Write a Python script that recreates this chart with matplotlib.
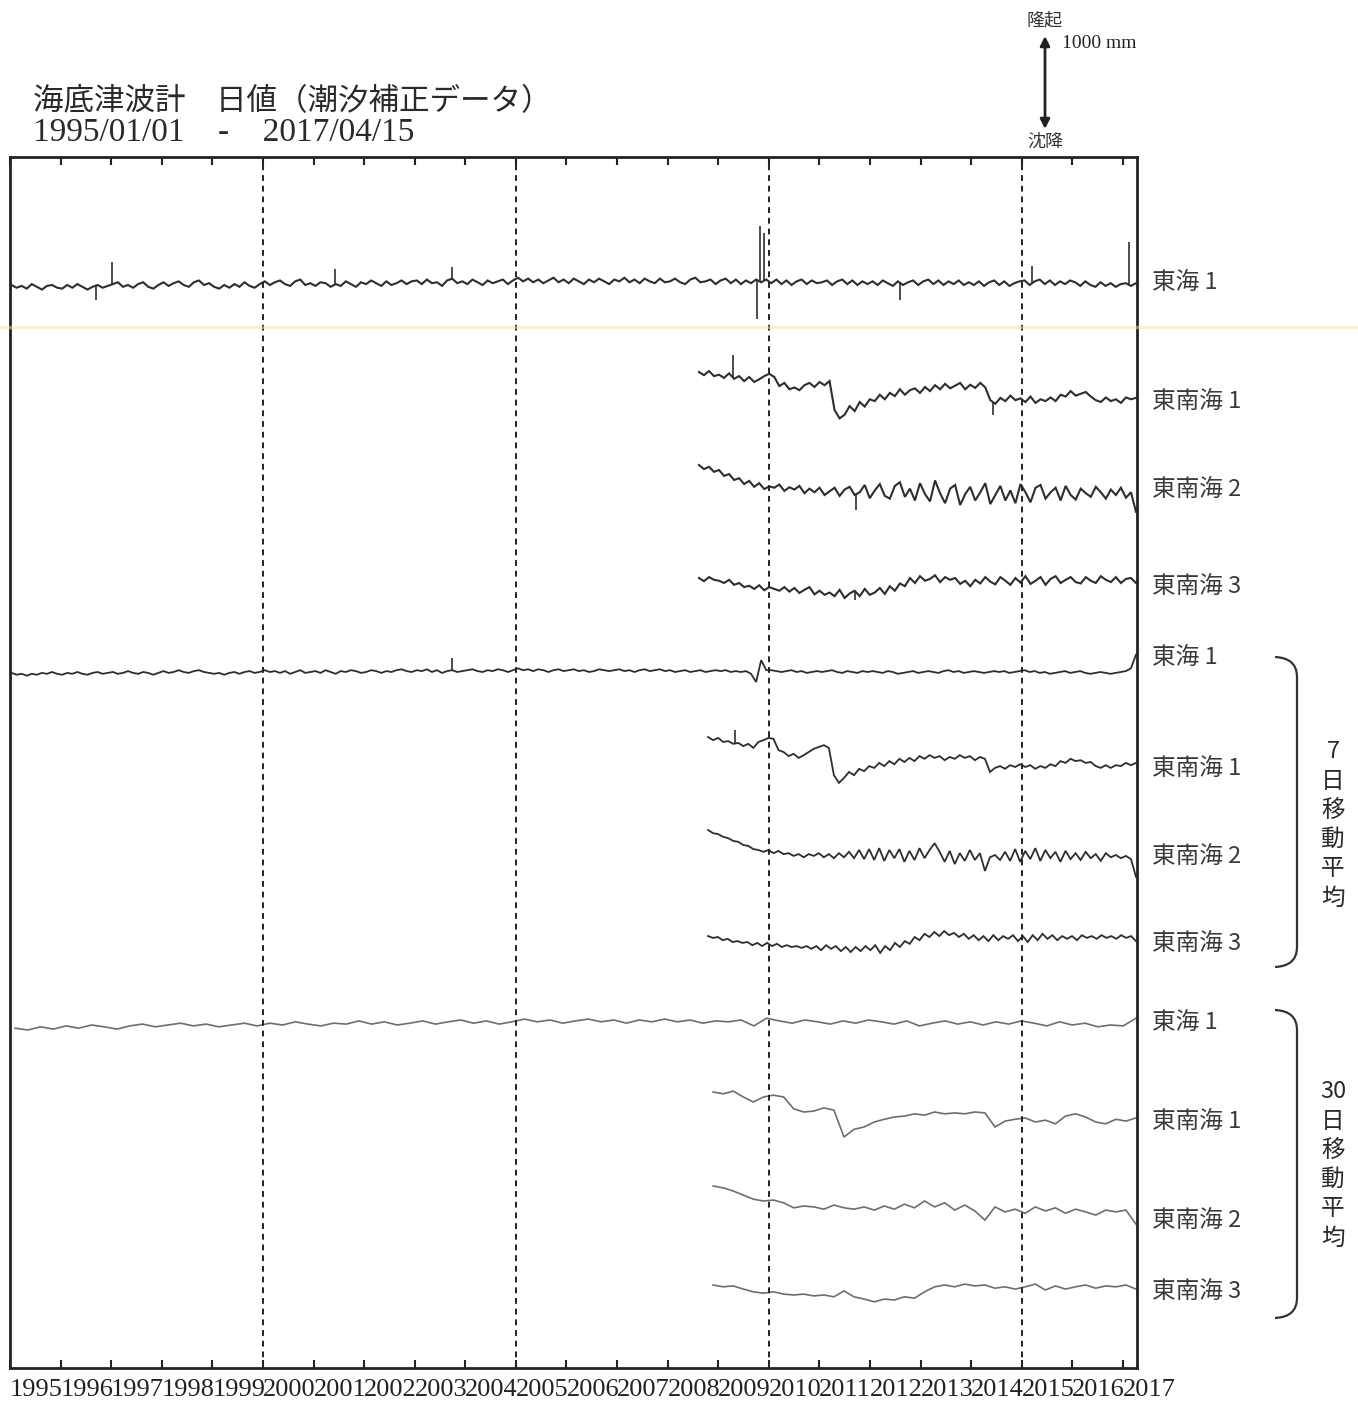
import numpy as np
import matplotlib.pyplot as plt
from matplotlib.path import Path
from matplotlib.patches import PathPatch

plt.rcParams['font.family'] = ['Noto Sans CJK JP', 'DejaVu Sans']

# time span (decimal years)
X_MIN, X_MAX = 1995.0, 2017.28
TOKAI_D_START, TOKAI_7_START, TOKAI_30_START = 1995.03, 1995.03, 1995.1
TN_D_START, TN_7_START, TN_30_START = 2008.62, 2008.8, 2008.9
T_LAST = 2017.26

years = list(range(1995, 2018))
year_labels = [str(y) for y in years]

# ---- daily values, mm (uplift positive), relative to each trace's baseline
tokai_d = [0, -30, -10, -40, 10, -20, -50, -10, 0, -30,
           -40, 0, -30, 10, -20, -50, -20, 0, -30, -10,
           10, 30, -20, 0, -30, 10, 30, -20, -40, 0,
           30, -10, 20, 40, 0, -20, 30, 50, 0, 20,
           -20, -40, 0, -30, 10, -20, 30, -10, -30, 10,
           40, 0, 30, 50, 10, -10, 40, 60, 0, 20,
           -10, 30, 20, -20, 10, -10, 40, 10, -20, 30,
           10, 50, 20, -10, 40, 0, 20, 50, 10, 40,
           50, 10, 60, 20, 30, -10, 50, 70, 20, 40,
           10, 60, 30, 0, 50, 20, 40, 60, 10, 50,
           80, 40, 70, 30, 60, 20, 50, 80, 30, 60,
           20, 70, 40, 10, 60, 30, 70, 40, 10, 60,
           40, 80, 30, 60, 20, 70, 40, 20, 70, 30,
           40, 70, 30, 10, 60, 80, 30, 40, 60, 10,
           50, 70, 20, 60, 10, 50, 20, 60, 30, 60,
           20, 60, 10, 50, 0, 40, 60, 10, 50, 20,
           30, 50, 0, 40, 60, 10, 50, 0, 40, 10,
           40, 0, 50, 20, -10, 40, 0, 30, 50, 0,
           40, 60, 10, 50, 0, 40, 10, 50, 0, 30,
           0, 40, -10, 30, 50, 0, 40, -10, 20, 40,
           50, 0, 40, 60, 10, 50, 0, 40, 10, 50,
           30, -10, 40, 0, -20, 30, -10, 20, -20, 10,
           20, -10, 20]
tokai_d_spike_t = [1996.70, 1997.02, 2001.42, 2003.73, 2009.76, 2009.83, 2009.90, 2012.60, 2015.20, 2017.12]
tokai_d_spike_v = [-170, 250, 180, 200, -370, 650, 570, -170, 210, 470]

tn1_d = [0, -35, 10, -45, -30, -65, -15, -75, -45, -100,
         -55, -110, -80, -45, -20, -55, -155, -120, -190, -170,
         -200, -145, -120, -165, -110, -145, -100, -420, -510, -470,
         -375, -430, -330, -380, -300, -320, -250, -300, -230, -265,
         -190, -250, -200, -180, -230, -165, -210, -145, -190, -130,
         -180, -150, -120, -190, -140, -175, -120, -170, -310, -350,
         -285, -320, -260, -310, -290, -330, -270, -340, -300, -320,
         -280, -320, -250, -270, -210, -260, -240, -220, -270, -310,
         -330, -280, -320, -300, -340, -280, -300, -285]
tn1_d_spike_t = [2009.30, 2014.43]
tn1_d_spike_v = [190, -470]

tn2_d = [0, -45, -20, -75, -55, -120, -100, -165, -145, -210,
         -175, -240, -200, -265, -235, -250, -215, -285, -245, -270,
         -230, -310, -260, -300, -250, -330, -290, -250, -340, -270,
         -240, -330, -300, -220, -365, -280, -210, -340, -370, -230,
         -190, -350, -260, -390, -200, -320, -400, -170, -310, -420,
         -260, -220, -440, -320, -240, -390, -300, -200, -430, -330,
         -230, -390, -280, -420, -210, -300, -410, -250, -220, -370,
         -300, -250, -390, -230, -330, -380, -260, -310, -350, -240,
         -300, -370, -270, -330, -250, -360, -300, -515]
tn2_d_spike_t = [2011.72]
tn2_d_spike_v = [-500]

tn3_d = [0, -35, 10, -20, -30, -55, -20, -75, -55, -100,
         -85, -120, -80, -135, -100, -120, -140, -100, -150, -110,
         -165, -130, -100, -180, -140, -185, -160, -200, -130, -220,
         -170, -140, -200, -120, -185, -160, -110, -175, -90, -140,
         -60, -90, 0, -55, 20, -30, -10, 30, -45, 10,
         -20, 0, -65, -30, -90, -20, -60, 10, -40, -70,
         10, -30, -75, 0, -50, 20, -65, -30, 10, -75,
         -10, 20, -55, -20, 10, -45, -60, 10, -30, -55,
         20, -20, -45, 10, -55, -10, 0, -55]
tn3_d_spike_t = [2011.70]
tn3_d_spike_v = [-240]

# ---- 7-day moving average, mm
tokai_7 = [-10, -30, -20, -40, -20, -30, -10, -20, 0, -20,
           -30, -10, -20, 0, -20, -30, -10, 0, -20, -10,
           0, -20, -10, 10, -10, -20, 0, -10, -30, -10,
           10, -10, 0, 20, 0, -10, 10, 20, 0, -10,
           -20, -10, -30, -10, 0, -20, 0, 10, -10, 0,
           20, 0, 10, -10, 10, -20, 0, 20, -10, 0,
           10, -10, 20, 0, -20, 10, 0, 20, 10, -10,
           0, 20, 10, -10, 10, 0, 20, 30, 10, 0,
           20, 10, 30, 0, 20, -10, 10, 20, 0, 10,
           20, 30, 10, 0, 20, 10, 30, 20, 0, 20,
           40, 20, 30, 10, 30, 20, 0, 20, 30, 10,
           20, 30, 10, 20, 0, 10, 30, 20, 10, 20,
           30, 10, 20, 0, 20, 30, 10, 20, 30, 10,
           20, 0, 10, 20, 0, 10, 20, 0, 10, 20,
           10, 20, 0, 10, 0, 10, -20, -110, 130, 20,
           20, 10, 0, 10, 20, 0, 10, -10, 0, 10,
           0, 10, 20, 0, -10, 10, 0, -10, 10, 0,
           10, 0, -10, 10, 0, -20, -10, 0, 10, -10,
           0, 10, 0, -10, 10, 20, 0, 10, -10, 0,
           10, 0, -10, 0, 10, 0, 10, -10, 0, 10,
           20, 0, 10, -10, 0, -20, -10, 0, 10, -10,
           0, 10, -10, -20, -10, 0, -10, -20, -10, 0,
           10, 40, 190]
tokai_7_spike_t = [2003.73]
tokai_7_spike_v = [150]

tn1_7 = [0, -35, -10, -55, -45, -75, -65, -100, -75, -120,
         -55, -35, -10, -20, -145, -165, -210, -185, -230, -200,
         -165, -130, -110, -90, -120, -420, -505, -450, -385, -420,
         -350, -375, -320, -340, -285, -320, -265, -300, -240, -275,
         -230, -265, -210, -240, -200, -230, -210, -255, -220, -240,
         -200, -230, -210, -255, -220, -240, -385, -340, -320, -350,
         -310, -330, -300, -330, -310, -350, -320, -340, -300, -320,
         -265, -285, -240, -265, -255, -285, -275, -320, -340, -310,
         -340, -310, -320, -285, -310, -285]
tn1_7_spike_t = [2009.33]
tn1_7_spike_v = [80]

tn2_7 = [0, -35, -45, -75, -90, -120, -130, -165, -175, -210,
         -220, -240, -220, -255, -230, -265, -255, -285, -265, -300,
         -265, -285, -255, -300, -265, -310, -255, -300, -240, -310,
         -220, -320, -210, -330, -200, -340, -220, -310, -210, -350,
         -230, -330, -200, -310, -220, -145, -240, -350, -230, -375,
         -255, -340, -220, -330, -255, -450, -300, -275, -330, -240,
         -340, -210, -350, -230, -320, -200, -340, -220, -310, -240,
         -350, -230, -320, -255, -330, -240, -310, -265, -340, -255,
         -300, -275, -310, -285, -320, -515]

tn3_7 = [10, -10, 0, -35, -20, -55, -45, -65, -55, -90,
         -65, -100, -65, -100, -75, -110, -90, -110, -100, -120,
         -100, -130, -100, -145, -90, -130, -100, -155, -110, -165,
         -110, -155, -100, -145, -90, -175, -100, -145, -65, -110,
         -45, -75, 0, -35, 35, 0, 55, 10, 65, 20,
         45, 0, 35, -20, 20, -35, 10, -45, 20, -35,
         10, -20, 20, -45, 10, -55, 20, -35, 35, -20,
         20, -35, 10, -20, 10, -35, 20, -10, 10, -20,
         20, -10, 10, -20, 20, -10, 10, -45]

# ---- 30-day moving average, mm
tokai_30 = [-35, -55, -20, -45, -10, -35, 0, -20, -45, -10,
            10, -20, 0, 20, -10, 10, -20, 0, 20, -10,
            20, 0, 35, 10, -10, 20, 10, 45, 10, 35,
            0, 20, 45, 10, 35, 55, 20, 45, 10, 35,
            65, 35, 55, 20, 45, 65, 35, 55, 20, 55,
            35, 65, 35, 55, 20, 45, 35, 55, -10, 75,
            45, 20, 55, 35, 10, 45, 20, 55, 35, 10,
            45, -10, 20, 45, 10, 35, 0, 35, 10, 45,
            20, -10, 35, 0, 20, -20, 0, -10, 75]

tn1_30 = [0, -20, 10, -55, -110, -55, -35, -55, -185, -220,
          -210, -175, -200, -495, -410, -385, -330, -300, -275, -265,
          -240, -255, -220, -240, -230, -240, -220, -230, -385, -320,
          -300, -285, -330, -310, -350, -265, -240, -275, -330, -350,
          -300, -320, -285]

tn2_30 = [0, -20, -55, -100, -145, -165, -155, -185, -240, -220,
          -230, -255, -210, -240, -255, -230, -265, -220, -255, -200,
          -240, -165, -230, -185, -265, -210, -275, -375, -230, -285,
          -255, -300, -230, -275, -240, -300, -255, -285, -320, -265,
          -285, -265, -420]

tn3_30 = [0, -20, -10, -45, -75, -90, -75, -100, -110, -100,
          -120, -110, -130, -65, -130, -155, -185, -155, -165, -130,
          -145, -75, -20, 0, -20, 10, -10, 0, -35, -20,
          -45, -20, 10, -55, -10, -45, -20, 0, -35, -10,
          -20, 0, -45]

trace_names = ['東海 1', '東南海 1', '東南海 2', '東南海 3',
               '東海 1', '東南海 1', '東南海 2', '東南海 3',
               '東海 1', '東南海 1', '東南海 2', '東南海 3']

# ---- layout (pixels of the 1358x1405 canvas)
W, H = 1358, 1405
AX_L, AX_R, AX_T, AX_B = 10, 1137, 157, 1368
MM_PER_PX = 11.0
baseline_px = [285, 372, 465, 578, 672, 737, 830, 937, 1025, 1092, 1186, 1285]
label_px = [283, 402, 490, 587, 658, 769, 857, 944, 1023, 1122, 1221, 1292]

DARK = '#2e2e2e'
LIGHT = '#6e6e6e'

fig = plt.figure(figsize=(W / 100, H / 100), dpi=100)
fig.patch.set_facecolor('white')
ax = fig.add_axes([AX_L / W, 1 - AX_B / H, (AX_R - AX_L) / W, (AX_B - AX_T) / H])
ax.set_xlim(X_MIN, X_MAX)
ax.set_ylim(0, (AX_B - AX_T) * MM_PER_PX)

series = [
    (tokai_d, TOKAI_D_START, tokai_d_spike_t, tokai_d_spike_v, DARK, 1.5),
    (tn1_d, TN_D_START, tn1_d_spike_t, tn1_d_spike_v, DARK, 1.5),
    (tn2_d, TN_D_START, tn2_d_spike_t, tn2_d_spike_v, DARK, 1.5),
    (tn3_d, TN_D_START, tn3_d_spike_t, tn3_d_spike_v, DARK, 1.5),
    (tokai_7, TOKAI_7_START, tokai_7_spike_t, tokai_7_spike_v, DARK, 1.3),
    (tn1_7, TN_7_START, tn1_7_spike_t, tn1_7_spike_v, DARK, 1.3),
    (tn2_7, TN_7_START, [], [], DARK, 1.3),
    (tn3_7, TN_7_START, [], [], DARK, 1.3),
    (tokai_30, TOKAI_30_START, [], [], LIGHT, 1.2),
    (tn1_30, TN_30_START, [], [], LIGHT, 1.2),
    (tn2_30, TN_30_START, [], [], LIGHT, 1.2),
    (tn3_30, TN_30_START, [], [], LIGHT, 1.2),
]

for (vals, t0, st, sv, col, lw), bpx in zip(series, baseline_px):
    off = (AX_B - bpx) * MM_PER_PX
    t = np.linspace(t0, T_LAST, len(vals))
    v = np.array(vals, dtype=float)
    ax.plot(t, off + v, color=col, lw=lw, solid_joinstyle='miter')
    if st:
        base = np.interp(st, t, v)
        ax.vlines(st, off + base, off + np.array(sv), color=col, lw=1.2)

for yr in [2000, 2005, 2010, 2015]:
    ax.axvline(yr, color='#222222', lw=1.4, ls=(0, (3, 2.5)))

ax.set_yticks([])
ax.set_xticks(years)
ax.set_xticklabels(year_labels, family='Liberation Serif', fontsize=19, color='#222222')
for lbl in ax.get_xticklabels():
    lbl.set_horizontalalignment('left')
ax.tick_params(axis='x', direction='in', top=True, length=6, width=1.5, pad=8, color='#222222')
for sp in ax.spines.values():
    sp.set_linewidth(2)
    sp.set_color('#222222')

# ---- annotations on a full-canvas overlay in pixel coordinates
ov = fig.add_axes([0, 0, 1, 1], facecolor='none')
ov.set_xlim(0, W)
ov.set_ylim(H, 0)
ov.axis('off')

ov.text(33, 102, '海底津波計\u3000日値（潮汐補正データ）', fontsize=22, color='#2a2a2a',
        ha='left', va='center')
ov.text(33, 133, '1995/01/01    -    2017/04/15', family='Liberation Serif',
        fontsize=24, color='#2a2a2a', ha='left', va='center')

for name, ypx in zip(trace_names, label_px):
    ov.text(1152, ypx, name, fontsize=17, color='#3a3a3a', ha='left', va='center')

# scale bar
ov.annotate('', xy=(1045, 36), xytext=(1045, 129),
            arrowprops=dict(arrowstyle='<|-|>', lw=2, color='#222222', mutation_scale=14,
                            shrinkA=0, shrinkB=0))
ov.text(1045, 20, '隆起', fontsize=13, color='#333333', ha='center', va='center')
ov.text(1045, 142, '沈降', fontsize=13, color='#333333', ha='center', va='center')
ov.text(1062, 44, '1000 mm', family='Liberation Serif', fontsize=14, color='#222222',
        ha='left', va='center')

# brackets
for top, bot in [(657, 967), (1010, 1318)]:
    verts = [(1275, top), (1297, top + 1), (1297, top + 20),
             (1297, bot - 20),
             (1297, bot - 1), (1275, bot)]
    codes = [Path.MOVETO, Path.CURVE3, Path.CURVE3, Path.LINETO, Path.CURVE3, Path.CURVE3]
    ov.add_patch(PathPatch(Path(verts, codes), fill=False, lw=1.6, edgecolor='#333333'))

for chars, y0 in [(['7', '日', '移', '動', '平', '均'], 752),
                  (['30', '日', '移', '動', '平', '均'], 1092)]:
    for i, ch in enumerate(chars):
        ov.text(1333, y0 + i * 29.2, ch, fontsize=17, color='#2a2a2a', ha='center', va='center')

# faint yellow scan streak
ov.plot([0, W], [327, 327], color='#f2e9a0', lw=2.5, alpha=0.5)

fig.savefig('out.png', dpi=100)
